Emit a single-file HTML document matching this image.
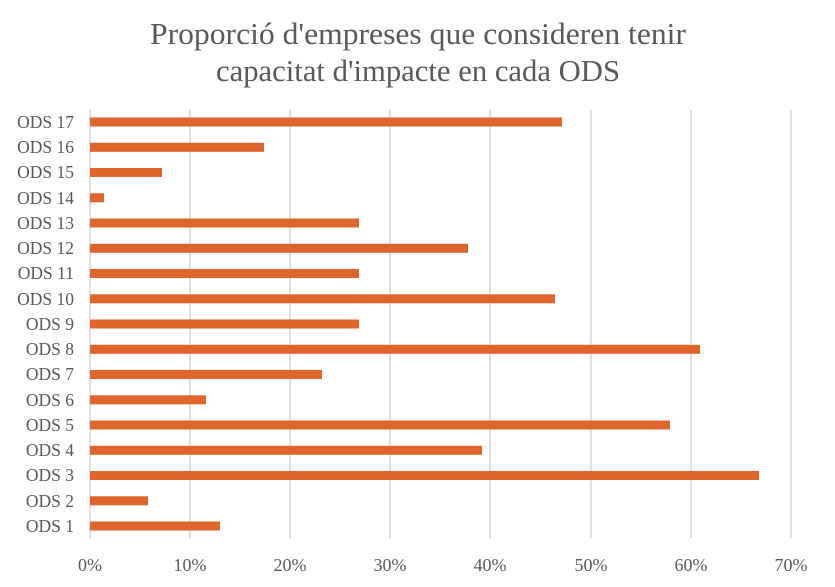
<!DOCTYPE html>
<html><head><meta charset="utf-8"><style>
html,body{margin:0;padding:0;background:#fff;}
svg{display:block;}
text{font-family:"Liberation Serif","DejaVu Serif",serif;fill:#595959;}
</style></head><body>
<svg width="835" height="587" viewBox="0 0 835 587">
<rect width="835" height="587" fill="#fff"/>
<text x="418" y="44" font-size="31" text-anchor="middle" textLength="536" lengthAdjust="spacingAndGlyphs">Proporció d'empreses que consideren tenir</text>
<text x="418" y="81" font-size="31" text-anchor="middle" textLength="404" lengthAdjust="spacingAndGlyphs">capacitat d'impacte en cada ODS</text>
<g stroke="#d0d0d0" stroke-width="1.3">
<line x1="90" y1="110" x2="90" y2="538"/>
<line x1="190" y1="110" x2="190" y2="538"/>
<line x1="290" y1="110" x2="290" y2="538"/>
<line x1="390" y1="110" x2="390" y2="538"/>
<line x1="490" y1="110" x2="490" y2="538"/>
<line x1="591" y1="110" x2="591" y2="538"/>
<line x1="691" y1="110" x2="691" y2="538"/>
<line x1="791" y1="110" x2="791" y2="538"/>
</g>
<g fill="#e0652a">
<rect x="90" y="117.5" width="472" height="9"/>
<rect x="90" y="142.8" width="174" height="9"/>
<rect x="90" y="168" width="72" height="9"/>
<rect x="90" y="193.3" width="14" height="9"/>
<rect x="90" y="218.5" width="269" height="9"/>
<rect x="90" y="243.8" width="378" height="9"/>
<rect x="90" y="269" width="269" height="9"/>
<rect x="90" y="294.3" width="465" height="9"/>
<rect x="90" y="319.5" width="269" height="9"/>
<rect x="90" y="344.8" width="610" height="9"/>
<rect x="90" y="370" width="232" height="9"/>
<rect x="90" y="395.3" width="116" height="9"/>
<rect x="90" y="420.5" width="580" height="9"/>
<rect x="90" y="445.8" width="392" height="9"/>
<rect x="90" y="471" width="669" height="9"/>
<rect x="90" y="496.3" width="58" height="9"/>
<rect x="90" y="521.5" width="130" height="9"/>
</g>
<g font-size="17.5" text-anchor="end">
<text x="74" y="128">ODS 17</text>
<text x="74" y="153">ODS 16</text>
<text x="74" y="178">ODS 15</text>
<text x="74" y="204">ODS 14</text>
<text x="74" y="229">ODS 13</text>
<text x="74" y="254">ODS 12</text>
<text x="74" y="279">ODS 11</text>
<text x="74" y="305">ODS 10</text>
<text x="74" y="330">ODS 9</text>
<text x="74" y="355">ODS 8</text>
<text x="74" y="380">ODS 7</text>
<text x="74" y="406">ODS 6</text>
<text x="74" y="431">ODS 5</text>
<text x="74" y="456">ODS 4</text>
<text x="74" y="481">ODS 3</text>
<text x="74" y="507">ODS 2</text>
<text x="74" y="532">ODS 1</text>
</g>
<g font-size="18" text-anchor="middle">
<text x="90" y="571">0%</text>
<text x="190" y="571">10%</text>
<text x="290" y="571">20%</text>
<text x="390" y="571">30%</text>
<text x="490" y="571">40%</text>
<text x="591" y="571">50%</text>
<text x="691" y="571">60%</text>
<text x="791" y="571">70%</text>
</g>
</svg>
</body></html>
